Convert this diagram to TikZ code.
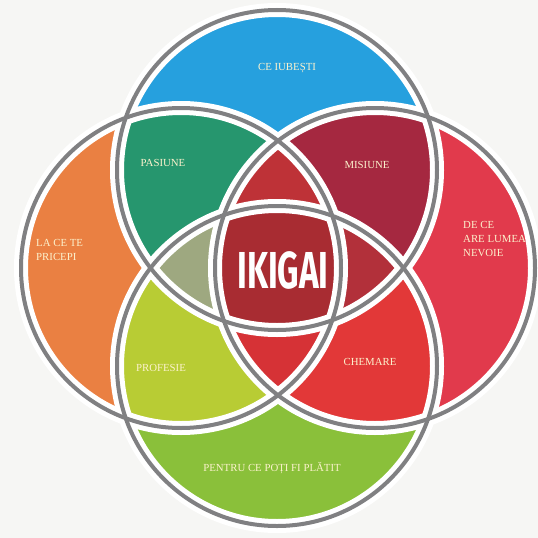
\documentclass[tikz,border=0pt]{standalone}
\usepackage{fontspec}
\setmainfont{Liberation Serif}
\newfontfamily\ikigaifont{Fira Sans}
\usepackage{graphicx}

\definecolor{pagebg}{RGB}{246,246,244}
\definecolor{ringgray}{RGB}{128,128,130}
\definecolor{labelcream}{RGB}{252,242,205}
\definecolor{blueT}{RGB}{38,160,222}
\definecolor{orangeL}{RGB}{234,128,66}
\definecolor{redR}{RGB}{225,58,76}
\definecolor{greenB}{RGB}{138,192,58}
\definecolor{tealTL}{RGB}{38,150,110}
\definecolor{crimsonTR}{RGB}{165,40,64}
\definecolor{limeBL}{RGB}{184,204,52}
\definecolor{redBR}{RGB}{226,56,56}
\definecolor{topTLR}{RGB}{190,50,55}
\definecolor{sageTBL}{RGB}{158,168,128}
\definecolor{darkTBR}{RGB}{178,48,58}
\definecolor{botBLR}{RGB}{214,50,54}
\definecolor{centreAll}{RGB}{168,44,50}

\begin{document}
\begin{tikzpicture}[x=1pt,y=-1pt,
	ring line/.style={line width=14pt,white},
	edge line/.style={line width=4pt,ringgray},
	area label/.style={text=labelcream,font=\fontsize{10.8}{14}\selectfont,align=left,inner sep=0pt}
]

	\def \r {160pt};

	\useasboundingbox (0,0) rectangle (538,538);
	\fill[pagebg] (0,0) rectangle (538,538);

	\coordinate (cT) at (277,170);
	\coordinate (cL) at (181,268);
	\coordinate (cR) at (375,268);
	\coordinate (cB) at (277,366);

	% single circles
	\foreach \c/\col in {cT/blueT, cL/orangeL, cR/redR, cB/greenB}
		\fill[\col] (\c) circle (\r);

	% two circles
	\foreach \a/\b/\col in {cT/cL/tealTL, cT/cR/crimsonTR, cB/cL/limeBL, cB/cR/redBR} {
		\begin{scope}
			\clip (\a) circle (\r);
			\fill[\col] (\b) circle (\r);
		\end{scope}
	}

	% three circles
	\foreach \a/\b/\c/\col in {cT/cL/cR/topTLR, cT/cB/cL/sageTBL, cT/cB/cR/darkTBR, cB/cL/cR/botBLR} {
		\begin{scope}
			\clip (\a) circle (\r);
			\clip (\b) circle (\r);
			\fill[\col] (\c) circle (\r);
		\end{scope}
	}

	% all four
	\begin{scope}
		\clip (cT) circle (\r);
		\clip (cB) circle (\r);
		\clip (cL) circle (\r);
		\fill[centreAll] (cR) circle (\r);
	\end{scope}

	\foreach \c in {cT,cL,cR,cB}
		\draw[ring line] (\c) circle (\r);
	\foreach \c in {cT,cL,cR,cB}
		\draw[edge line] (\c) circle (\r);

	\node[area label] (love) at (287,68) {CE IUBEȘTI};
	\node[area label] (passion) at (163,163) {PASIUNE};
	\node[area label] (mission) at (367,165) {MISIUNE};
	\node[area label,anchor=west] (good) at (36,250) {LA CE TE\\PRICEPI};
	\node[area label,anchor=west] (need) at (463,239) {DE CE\\ARE LUMEA\\NEVOIE};
	\node[area label] (profession) at (161,368) {PROFESIE};
	\node[area label] (vocation) at (370,362) {CHEMARE};
	\node[area label] (paid) at (272,468) {PENTRU CE POȚI FI PLĂTIT};

	\node[text=white,inner sep=0pt] (ikigai) at (283,270)
		{\scalebox{0.64}[1]{\ikigaifont\bfseries\fontsize{52}{52}\selectfont IKIGAI}};
\end{tikzpicture}
\end{document}
